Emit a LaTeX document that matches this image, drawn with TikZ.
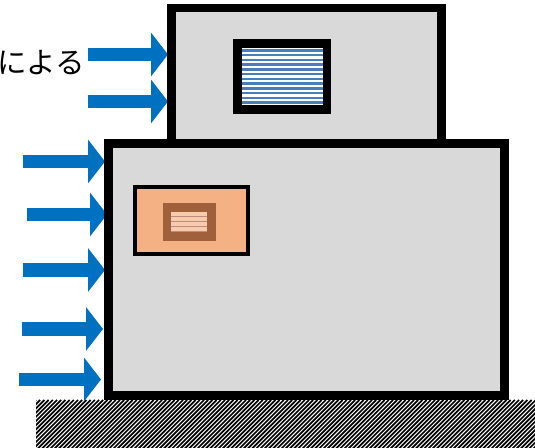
\documentclass[tikz,border=0pt]{standalone}
\usepackage{fontspec}
\newfontfamily\jpfont{Noto Sans CJK JP}
\usetikzlibrary{arrows.meta}
\definecolor{windblue}{HTML}{0070C0}
\definecolor{wallgray}{HTML}{D9D9D9}
\definecolor{glassblue}{HTML}{4A7EBB}
\definecolor{salmon}{HTML}{F4B183}
\definecolor{wood}{HTML}{A0603C}
\definecolor{pinklight}{HTML}{F8CBAD}
\definecolor{pinkdark}{HTML}{BC8C80}

\begin{document}
\begin{tikzpicture}[x=0.02cm, y=-0.02cm,
    >={Triangle[length=0.34cm, width=0.86cm]},
    wind/.style={->, windblue, line width=0.27cm},
    wall/.style={fill=wallgray, draw=black, line width=0.17cm}]
    \useasboundingbox (0,0) rectangle (535,448);
    \clip (0,0) rectangle (535,448);

    % 地面（斜线）
    \begin{scope}
        \clip (36,400) rectangle (535,448);
        \foreach \i in {0,...,132}
            \draw[line width=0.034cm] ({36+\i*4.2-50},450) -- ({36+\i*4.2},400);
    \end{scope}

    % 风的箭头
    \draw[wind] (88,54.5) -- (168,54.5);
    \draw[wind] (88,101.5) -- (168,101.5);
    \draw[wind] (23,161.5) -- (105,161.5);
    \draw[wind] (27,214.5) -- (107,214.5);
    \draw[wind] (23,270) -- (105,270);
    \draw[wind] (22,329) -- (103,329);
    \draw[wind] (19,379.5) -- (101,379.5);

    % 上层和下层
    \draw[wall] (171.5,8) rectangle (441.5,143.5);
    \draw[wall] (108.5,143.5) rectangle (504.5,395.5);

    % 上层的窗
    \fill (233,39) rectangle (331,114);
    \fill[white] (242,48) rectangle (323,105);
    \foreach \k in {0,...,11}
        \draw[glassblue, line width=0.05cm] (242,{50.5+\k*4.75}) -- (323,{50.5+\k*4.75});

    % 下层的窗
    \draw[fill=salmon, line width=0.085cm] (135,187) rectangle (248,254);
    \fill[wood] (163,203) rectangle (216,241);
    \fill[pinklight] (171,212) rectangle (207,232);
    \foreach \k in {0,...,3}
        \draw[pinkdark, line width=0.035cm] (171,{216.5+\k*5}) -- (207,{216.5+\k*5});

    % 文字
    \node[anchor=east, inner sep=0pt, font=\jpfont\fontsize{16.8}{20}\selectfont] (label) at (85.5,63) {による};
\end{tikzpicture}
\end{document}
